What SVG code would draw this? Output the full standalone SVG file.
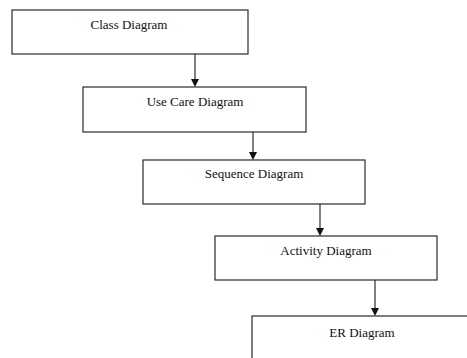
<svg xmlns="http://www.w3.org/2000/svg" width="467" height="358" viewBox="0 0 467 358">
<style>
.box{fill:#fff;stroke:#2a2a2a;stroke-width:1.2}
.lbl{font-family:"Liberation Serif",serif;font-size:13px;fill:#111;text-anchor:middle}
.con{stroke:#2a2a2a;stroke-width:1.2;fill:none}
.head{fill:#111}
</style>
<rect width="467" height="358" fill="#fff"/>
<g id="connectors">
<line class="con" x1="195" y1="54" x2="195" y2="80"/>
<path class="head" d="M191,79 L199,79 L195,87 Z"/>
<line class="con" x1="253" y1="132" x2="253" y2="153"/>
<path class="head" d="M249,152 L257,152 L253,160 Z"/>
<line class="con" x1="320" y1="204" x2="320" y2="229"/>
<path class="head" d="M316,228 L324,228 L320,236 Z"/>
<line class="con" x1="375" y1="280" x2="375" y2="309"/>
<path class="head" d="M371,308 L379,308 L375,316 Z"/>
</g>
<g id="class">
<rect class="box" x="12" y="10" width="236" height="44"/>
<text class="lbl" x="129" y="29">Class Diagram</text>
</g>
<g id="usecase">
<rect class="box" x="83" y="87" width="223" height="45"/>
<text class="lbl" x="195" y="106">Use Care Diagram</text>
</g>
<g id="sequence">
<rect class="box" x="143" y="160" width="222" height="44"/>
<text class="lbl" x="254" y="178">Sequence Diagram</text>
</g>
<g id="activity">
<rect class="box" x="215" y="236" width="222" height="44"/>
<text class="lbl" x="326" y="255">Activity Diagram</text>
</g>
<g id="er">
<rect class="box" x="252" y="316" width="230" height="60"/>
<text class="lbl" x="362" y="337">ER Diagram</text>
</g>
</svg>
